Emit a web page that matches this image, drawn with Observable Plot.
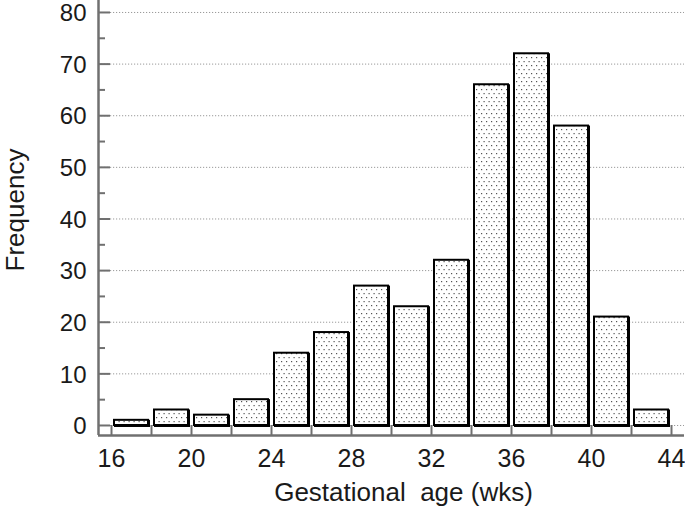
<!DOCTYPE html>
<html><head><meta charset="utf-8">
<script src="https://cdn.jsdelivr.net/npm/d3@7"></script>
<script src="https://cdn.jsdelivr.net/npm/@observablehq/plot@0.6"></script>
<style>body{margin:0;background:#fff}</style>
</head><body><div id="chart"></div>
<script>
// Data: histogram of gestational age (weeks), 2-week bins
const binStart = [16, 18, 20, 22, 24, 26, 28, 30, 32, 34, 36, 38, 40, 42];
const freq     = [1, 3, 2, 5, 14, 18, 27, 23, 32, 66, 72, 58, 21, 3];
const binWidth = 2;
const xTickVals = [16, 18, 20, 22, 24, 26, 28, 30, 32, 34, 36, 38, 40, 42, 44];
const xTickLabels = [16, 20, 24, 28, 32, 36, 40, 44];
const yMajor = [0, 10, 20, 30, 40, 50, 60, 70, 80];
const yMinor = [5, 15, 25, 35, 45, 55, 65, 75];
const yGrid = [0, 10, 20, 30, 40, 50, 60, 70, 80];
const xTitle = "Gestational\u00a0 age (wks)";
const yTitle = "Frequency";

const bins = binStart.map((s, i) => ({x1: s, x2: s + binWidth, y: freq[i]}));

const xDom = [15.35, 44.65];
const yDom = [-1.94, 82.32];
const pxX = (685 - 98 - 1) / (xDom[1] - xDom[0]);
const axisColor = "#707070";
const font = "Liberation Sans, Arial, Helvetica, sans-serif";

const chart = Plot.plot({
  width: 685,
  height: 513,
  marginLeft: 98,
  marginRight: 1,
  marginTop: 0,
  marginBottom: 78,
  style: {fontFamily: font, background: "#fff", color: "#1a1a1a"},
  x: {domain: xDom, axis: null},
  y: {domain: yDom, axis: null},
  marks: [
    Plot.ruleY(yGrid, {y: d => d, x1: xDom[0], x2: xDom[1], stroke: "#9a9a9a", strokeWidth: 1, strokeDasharray: "1.2,1.8"}),
    // bar shadow
    Plot.rectY(bins, {x1: "x1", x2: "x2", y1: 0, y2: "y", insetLeft: 3, insetRight: 3, dx: 1, dy: 1, fill: "none", stroke: "#000", strokeWidth: 2}),
    Plot.rectY(bins, {x1: "x1", x2: "x2", y1: 0, y2: "y", insetLeft: 3, insetRight: 3, fill: "url(#dots)", stroke: "#000", strokeWidth: 2}),
    // axes lines
    Plot.ruleX([xDom[0]], {x: d => d, y1: yDom[0], y2: yDom[1], stroke: axisColor, strokeWidth: 2.5}),
    Plot.ruleY([yDom[0]], {y: d => d, x1: xDom[0], x2: xDom[1], stroke: axisColor, strokeWidth: 2.5}),
    // y ticks (inward)
    Plot.ruleY(yMajor, {y: d => d, x1: xDom[0], x2: xDom[0] + 12 / pxX, stroke: axisColor, strokeWidth: 2}),
    Plot.ruleY(yMinor, {y: d => d, x1: xDom[0], x2: xDom[0] + 7 / pxX, stroke: axisColor, strokeWidth: 2}),
    // x ticks (upward to zero level)
    Plot.ruleX(xTickVals, {x: d => d, y1: yDom[0], y2: 0, stroke: axisColor, strokeWidth: 2}),
    // tick labels
    Plot.text(yMajor, {frameAnchor: "left", y: d => d, text: d => String(d), dx: -12, dy: 1, textAnchor: "end", lineAnchor: "middle", fontSize: 24, fill: "#1a1a1a"}),
    Plot.text(xTickLabels, {x: d => d, frameAnchor: "bottom", text: d => String(d), dy: 23, textAnchor: "middle", lineAnchor: "middle", fontSize: 25, fill: "#1a1a1a"}),
    // titles
    Plot.text([xTitle], {frameAnchor: "bottom", text: d => d, dx: 12, dy: 57, textAnchor: "middle", lineAnchor: "middle", fontSize: 26, fill: "#1a1a1a"}),
    Plot.text([yTitle], {frameAnchor: "left", text: d => d, dx: -83, dy: -8, rotate: -90, textAnchor: "middle", lineAnchor: "middle", fontSize: 26, fill: "#1a1a1a"})
  ]
});

// dotted fill pattern
const ns = "http://www.w3.org/2000/svg";
const defs = document.createElementNS(ns, "defs");
defs.innerHTML = `<pattern id="dots" patternUnits="userSpaceOnUse" width="5" height="8">
  <rect width="5" height="8" fill="#fff"/>
  <rect x="1" y="1" width="1.2" height="1.2" fill="#555"/>
  <rect x="3.5" y="5" width="1.2" height="1.2" fill="#555"/>
</pattern>`;
chart.insertBefore(defs, chart.firstChild);
document.getElementById("chart").appendChild(chart);
</script>
</body></html>
